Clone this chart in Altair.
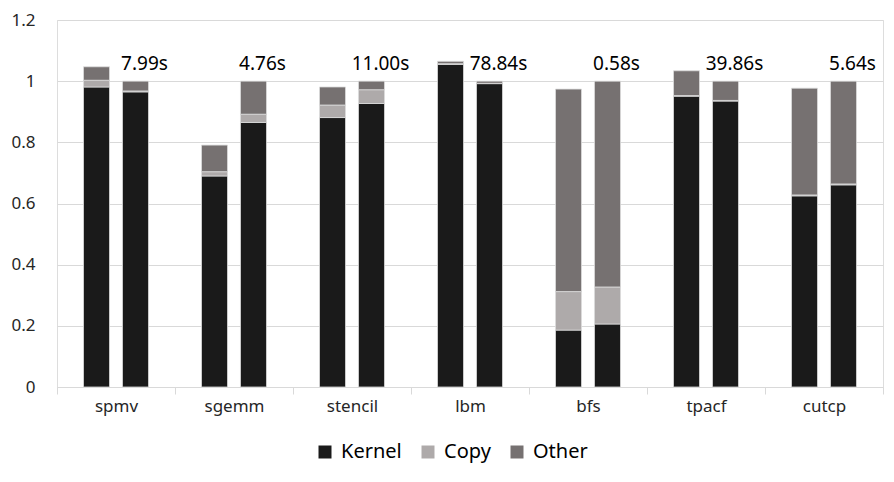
import altair as alt
import pandas as pd

benchmarks = ["spmv", "sgemm", "stencil", "lbm", "bfs", "tpacf", "cutcp"]
components = ["Kernel", "Copy", "Other"]
colors = ["#1a1a1a", "#aeaaaa", "#767171"]

kernel_a = [0.981, 0.690, 0.881, 1.055, 0.186, 0.951, 0.625]
copy_a = [0.022, 0.014, 0.041, 0.002, 0.126, 0.002, 0.003]
other_a = [0.044, 0.087, 0.059, 0.008, 0.662, 0.081, 0.349]

kernel_b = [0.965, 0.865, 0.927, 0.992, 0.206, 0.935, 0.661]
copy_b = [0.003, 0.027, 0.045, 0.001, 0.121, 0.002, 0.003]
other_b = [0.032, 0.108, 0.028, 0.007, 0.673, 0.063, 0.336]

time_labels = ["7.99s", "4.76s", "11.00s", "78.84s", "0.58s", "39.86s", "5.64s"]

rows = []
for run, series in (("a", (kernel_a, copy_a, other_a)), ("b", (kernel_b, copy_b, other_b))):
    for ci, (comp, vals) in enumerate(zip(components, series)):
        for bench, v in zip(benchmarks, vals):
            rows.append({"bench": bench, "run": run, "component": comp, "order": ci, "value": v})
df = pd.DataFrame(rows)
lab = pd.DataFrame({"bench": benchmarks, "run": ["b"] * len(benchmarks), "label": time_labels})

FONT = "Noto Sans"

x = alt.X("bench:N", sort=benchmarks, title=None,
          scale=alt.Scale(paddingInner=0, paddingOuter=0),
          axis=alt.Axis(labelAngle=0, domainColor="#d9d9d9", tickColor="#d9d9d9",
                        tickSize=7, tickBand="extent", labelPadding=4,
                        labelFontSize=17, labelColor="#262626", labelFont=FONT, grid=False))
xo = alt.XOffset("run:N", sort=["a", "b"], scale=alt.Scale(paddingInner=0.333, paddingOuter=0.68))

bars = alt.Chart(df).mark_bar(stroke="#dcdcdc", strokeWidth=0.8).encode(
    x=x,
    xOffset=xo,
    y=alt.Y("sum(value):Q", title=None, stack="zero",
            scale=alt.Scale(domain=[0, 1.2]),
            axis=alt.Axis(values=[0, 0.2, 0.4, 0.6, 0.8, 1.0, 1.2], format="~g",
                          domain=False, ticks=False, labelPadding=22,
                          gridColor="#d9d9d9", gridWidth=1,
                          labelFontSize=17, labelColor="#262626", labelFont=FONT)),
    color=alt.Color("component:N", sort=components,
                    scale=alt.Scale(domain=components, range=colors),
                    legend=alt.Legend(title=None, orient="none", direction="horizontal",
                                      legendX=258, legendY=422, symbolType="square",
                                      symbolSize=169, symbolStrokeWidth=0,
                                      labelFontSize=20, labelFont=FONT, labelColor="#000000",
                                      labelOffset=6, columnPadding=16)),
    order=alt.Order("order:Q"),
)

texts = alt.Chart(lab).mark_text(fontSize=19, font=FONT, color="#000000",
                                 baseline="middle", dx=9).encode(
    x=alt.X("bench:N", sort=benchmarks),
    xOffset=alt.XOffset("run:N", sort=["a", "b"]),
    y=alt.value(44),
    text="label:N",
)

chart = alt.layer(bars, texts).properties(
    width=826, height=367,
    autosize=alt.AutoSizeParams(type="none"),
    padding={"left": 49, "top": 12, "right": 3, "bottom": 87},
).configure_view(stroke=None).configure(background="white")

chart.save("out.html", embed_options={"renderer": "svg", "actions": False})
